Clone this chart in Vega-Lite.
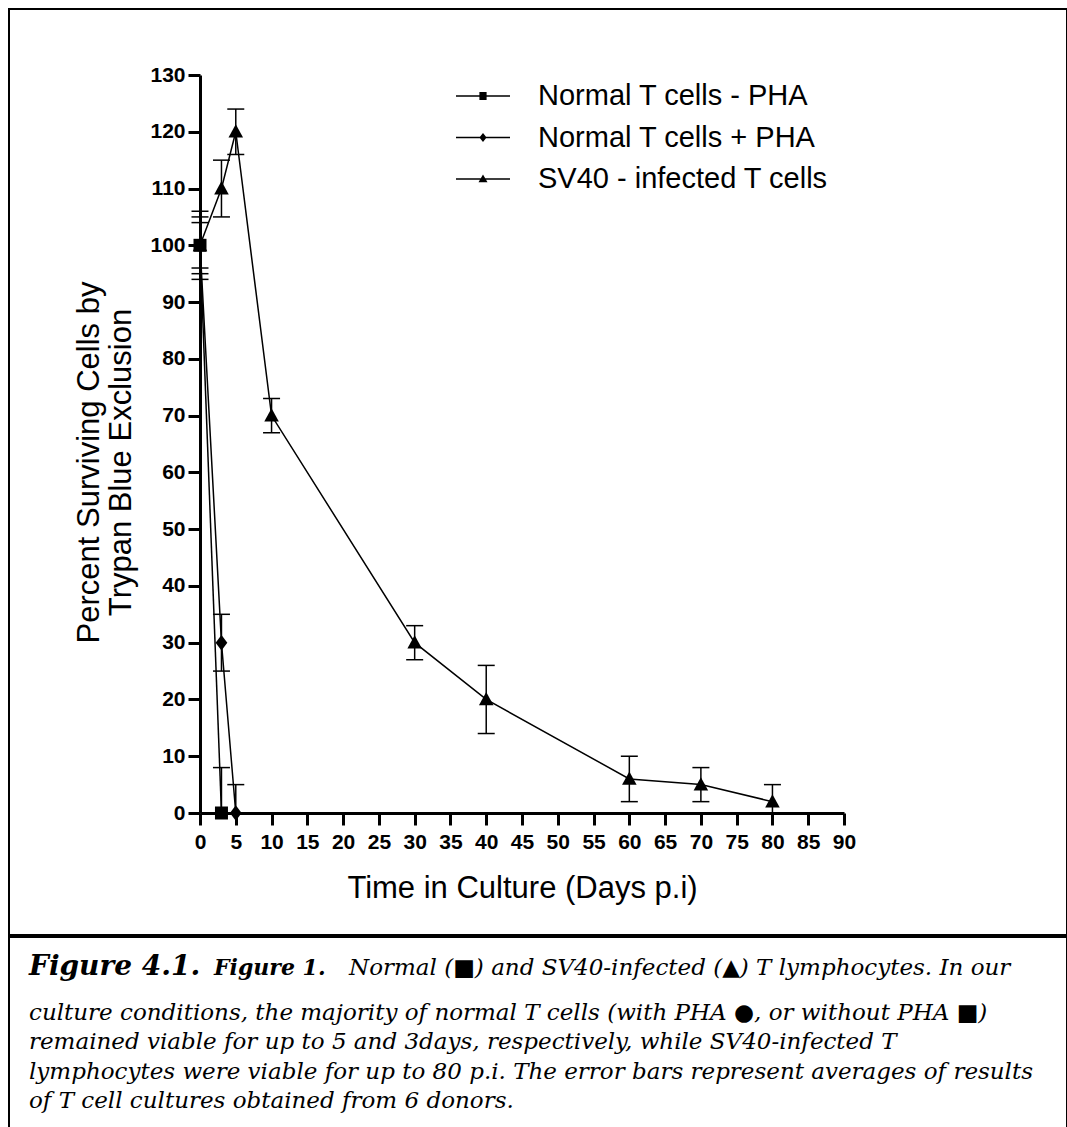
{
  "$schema": "https://vega.github.io/schema/vega-lite/v6.json",
  "padding": {"left": 8, "top": 8, "right": 0, "bottom": 0},
  "spacing": 0,
  "config": {
    "view": {"stroke": "black", "strokeWidth": 2},
    "font": "Liberation Sans",
    "axis": {
      "grid": false,
      "domainColor": "black",
      "domainWidth": 3,
      "tickColor": "black",
      "tickWidth": 3,
      "tickSize": 12,
      "labelFont": "Liberation Sans",
      "labelFontWeight": "bold",
      "labelFontSize": 21,
      "labelColor": "black",
      "labelOverlap": false,
      "labelFlush": false,
      "titleFont": "Liberation Sans",
      "titleFontWeight": "normal",
      "titleFontSize": 31,
      "titleColor": "black"
    }
  },
  "datasets": {
    "survival": [
      {"series": "Normal T cells - PHA", "day": 0, "value": 100, "lo": 95, "hi": 105},
      {"series": "Normal T cells - PHA", "day": 3, "value": 0, "lo": 0, "hi": 8},
      {"series": "Normal T cells + PHA", "day": 0, "value": 100, "lo": 96, "hi": 104},
      {"series": "Normal T cells + PHA", "day": 3, "value": 30, "lo": 25, "hi": 35},
      {"series": "Normal T cells + PHA", "day": 5, "value": 0, "lo": 0, "hi": 5},
      {"series": "SV40 - infected T cells", "day": 0, "value": 100, "lo": 94, "hi": 106},
      {"series": "SV40 - infected T cells", "day": 3, "value": 110, "lo": 105, "hi": 115},
      {"series": "SV40 - infected T cells", "day": 5, "value": 120, "lo": 116, "hi": 124},
      {"series": "SV40 - infected T cells", "day": 10, "value": 70, "lo": 67, "hi": 73},
      {"series": "SV40 - infected T cells", "day": 30, "value": 30, "lo": 27, "hi": 33},
      {"series": "SV40 - infected T cells", "day": 40, "value": 20, "lo": 14, "hi": 26},
      {"series": "SV40 - infected T cells", "day": 60, "value": 6, "lo": 2, "hi": 10},
      {"series": "SV40 - infected T cells", "day": 70, "value": 5, "lo": 2, "hi": 8},
      {"series": "SV40 - infected T cells", "day": 80, "value": 2, "lo": 0, "hi": 5}
    ],
    "caption": [
      {"row": 1, "part": "fig", "text": "Figure 4.1."},
      {"row": 1, "part": "sub", "text": "Figure 1."},
      {"row": 1, "part": "lead", "text": "Normal (■) and SV40-infected (▲) T lymphocytes. In our"},
      {"row": 2, "part": "body", "text": "culture conditions, the majority of normal T cells (with PHA ●, or without PHA ■)"},
      {"row": 3, "part": "body", "text": "remained viable for up to 5 and 3days, respectively, while SV40-infected T"},
      {"row": 4, "part": "body", "text": "lymphocytes were viable for up to 80 p.i. The error bars represent averages of results"},
      {"row": 5, "part": "body", "text": "of T cell cultures obtained from 6 donors."}
    ]
  },
  "vconcat": [
    {
      "width": 1058,
      "height": 926,
      "data": {"name": "survival"},
      "resolve": {"scale": {"shape": "independent"}, "legend": {"shape": "independent"}},
      "encoding": {
        "x": {
          "field": "day", "type": "quantitative",
          "scale": {"domain": [0, 90], "range": [191, 835]},
          "axis": {
            "offset": -122,
            "values": [0, 5, 10, 15, 20, 25, 30, 35, 40, 45, 50, 55, 60, 65, 70, 75, 80, 85, 90],
            "labelPadding": 6,
            "titlePadding": 21
          },
          "title": "Time in Culture (Days p.i)"
        },
        "y": {
          "field": "value", "type": "quantitative",
          "scale": {"domain": [0, 130], "range": [804, 66]},
          "axis": {
            "offset": -191,
            "values": [0, 10, 20, 30, 40, 50, 60, 70, 80, 90, 100, 110, 120, 130],
            "labelPadding": 3,
            "titlePadding": 12,
            "titleLineHeight": 32,
            "titleY": 453
          },
          "title": ["Percent Surviving Cells by", "Trypan Blue Exclusion"]
        }
      },
      "layer": [
        {
          "mark": {"type": "line", "color": "black", "strokeWidth": 1.5},
          "encoding": {"detail": {"field": "series"}}
        },
        {
          "mark": {"type": "rule", "color": "black", "strokeWidth": 1.5},
          "encoding": {
            "y": {"field": "lo", "type": "quantitative", "title": ["Percent Surviving Cells by", "Trypan Blue Exclusion"]},
            "y2": {"field": "hi"}
          }
        },
        {
          "mark": {"type": "tick", "orient": "horizontal", "color": "black", "thickness": 1.5, "size": 17, "opacity": 1},
          "encoding": {
            "y": {"field": "hi", "type": "quantitative", "title": ["Percent Surviving Cells by", "Trypan Blue Exclusion"]}
          }
        },
        {
          "transform": [{"filter": "datum.lo > 0"}],
          "mark": {"type": "tick", "orient": "horizontal", "color": "black", "thickness": 1.5, "size": 17, "opacity": 1},
          "encoding": {
            "y": {"field": "lo", "type": "quantitative", "title": ["Percent Surviving Cells by", "Trypan Blue Exclusion"]}
          }
        },
        {
          "mark": {"type": "point", "filled": true, "color": "black", "opacity": 1, "size": 169},
          "encoding": {
            "shape": {
              "field": "series", "type": "nominal",
              "scale": {
                "domain": ["Normal T cells - PHA", "Normal T cells + PHA", "SV40 - infected T cells"],
                "range": [
                  "M-1,-1H1V1H-1Z",
                  "M0,-1.2L0.9,0L0,1.2L-0.9,0Z",
                  "M0,-1.15L1.12,0.9H-1.12Z"
                ]
              },
              "legend": null
            }
          }
        },
        {
          "mark": {"type": "point", "filled": true, "color": "black", "opacity": 0, "size": 900},
          "encoding": {
            "shape": {
              "field": "series", "type": "nominal",
              "scale": {
                "domain": ["Normal T cells - PHA", "Normal T cells + PHA", "SV40 - infected T cells"],
                "range": [
                  "M-1.8,-0.05H1.8V0.05H-1.8ZM-0.24,-0.26H0.24V0.26H-0.24Z",
                  "M-1.8,-0.05H1.8V0.05H-1.8ZM0,-0.3L0.24,0L0,0.3L-0.24,0Z",
                  "M-1.8,-0.05H1.8V0.05H-1.8ZM0,-0.3L0.3,0.22H-0.3Z"
                ]
              },
              "legend": {
                "orient": "none",
                "legendX": 459,
                "legendY": 72,
                "title": null,
                "padding": 0,
                "labelFont": "Liberation Sans",
                "labelFontSize": 29,
                "labelColor": "black",
                "labelLimit": 0,
                "labelOffset": 40,
                "rowPadding": 11.5,
                "symbolSize": 900,
                "symbolFillColor": "black",
                "symbolStrokeColor": "transparent",
                "symbolStrokeWidth": 0,
                "symbolOpacity": 1
              }
            }
          }
        }
      ]
    },
    {
      "width": 1058,
      "height": 192,
      "data": {"name": "caption"},
      "encoding": {
        "x": {"datum": 0, "type": "quantitative", "scale": {"domain": [0, 1]}, "axis": null},
        "y": {"field": "row", "type": "quantitative", "scale": {"domain": [-0.83, 5.72], "reverse": true}, "axis": null},
        "text": {"field": "text"}
      },
      "layer": [
        {
          "transform": [{"filter": "datum.part === 'fig'"}],
          "mark": {"type": "text", "align": "left", "baseline": "alphabetic", "font": "DejaVu Serif", "fontStyle": "italic", "fontWeight": "bold", "fontSize": 28, "dx": 20, "dy": -16, "color": "black"}
        },
        {
          "transform": [{"filter": "datum.part === 'sub'"}],
          "mark": {"type": "text", "align": "left", "baseline": "alphabetic", "font": "DejaVu Serif", "fontStyle": "italic", "fontWeight": "bold", "fontSize": 22, "dx": 205, "dy": -16, "color": "black"}
        },
        {
          "transform": [{"filter": "datum.part === 'lead'"}],
          "mark": {"type": "text", "align": "left", "baseline": "alphabetic", "font": "DejaVu Serif", "fontStyle": "italic", "fontSize": 23, "dx": 340, "dy": -16, "color": "black"}
        },
        {
          "transform": [{"filter": "datum.part === 'body'"}],
          "mark": {"type": "text", "align": "left", "baseline": "alphabetic", "font": "DejaVu Serif", "fontStyle": "italic", "fontSize": 23, "dx": 20, "color": "black"}
        }
      ]
    }
  ]
}
